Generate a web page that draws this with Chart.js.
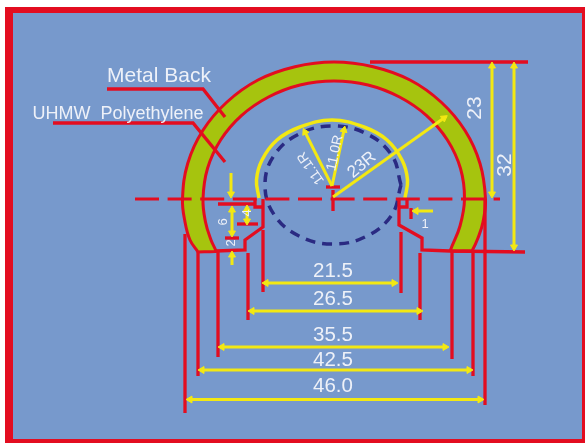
<!DOCTYPE html>
<html>
<head>
<meta charset="utf-8">
<style>
  html, body { margin: 0; padding: 0; background: #fff; }
  #wrap { width: 585px; height: 443px; }
</style>
<script src="https://cdn.jsdelivr.net/npm/chart.js@4"></script>
</head>
<body>
<div id="wrap"><canvas id="drawing" width="585" height="443"></canvas></div>
<script>
// all values, in picture units
const frame = [[5, 7], [585, 7], [585, 443], [5, 443], [5, 7]];
const panel = [[13, 13], [582, 13], [582, 439], [13, 439], [13, 13]];

const metalBack = [
  [198, 252], [190, 240], [185, 222], [182.5, 199], [187.7, 163.5], [202.8, 130.5], [227, 102], [258, 80],
  [295, 66.7], [334, 62], [373, 66.7], [410, 80], [441, 102], [465, 130.5], [480, 163.5], [485.5, 199],
  [483, 222], [478, 238], [472, 251], [471, 251], [451, 251], [450.5, 250], [460, 226], [464.5, 199],
  [460.5, 168.5], [447.4, 140], [426.6, 115.6], [399.5, 97], [368, 85], [334, 81], [300, 85], [268.5, 97],
  [241.4, 115.6], [220.6, 140], [207.5, 168.5], [203, 199], [205.5, 222], [211, 240], [216, 251], [215, 251.5], [198, 252]
];
const innerCircle = [
  [401, 185], [392, 155.5], [367, 134], [333, 126], [299, 134], [274, 155.5], [265, 185],
  [274, 214.5], [299, 236], [333, 244], [367, 236], [392, 214.5], [401, 185]
];
const yellowArc = [
  [259, 198], [256.5, 180], [262, 160], [277, 140], [300, 127], [332, 120],
  [364, 127], [387, 140], [402, 160], [407.5, 180], [405, 198]
];
const centreLine = [[135, 199], [500, 199]];

const redLines = [
  [[107, 89], [203, 89], [225, 117]],
  [[53, 123], [193, 123], [225, 162]],
  [[370, 62], [528, 62]],
  [[450, 251], [525, 252]],
  [[326, 187], [340, 187]],
  [[333, 190], [333, 211]],
  [[216, 251], [245, 250], [245, 240], [263, 227], [263, 199]],
  [[255, 199], [255, 207], [263, 207]],
  [[218, 204], [255, 204]],
  [[237, 224], [258, 224]],
  [[225, 238], [239, 238]],
  [[450, 251], [422, 250], [422, 238], [399, 225], [399, 199]],
  [[407, 199], [407, 207], [399, 207]],
  [[411, 208], [411, 219]],
  [[185, 234], [185, 413]],
  [[198, 252], [198, 376]],
  [[218, 251], [218, 357]],
  [[248, 253], [248, 320]],
  [[263, 230], [263, 292]],
  [[401, 232], [401, 293]],
  [[420, 253], [420, 320]],
  [[452, 251], [452, 359]],
  [[473, 251], [473, 376]],
  [[485, 199], [485, 405]]
];

// [from, to, heads] heads: 1 at the end, 2 at both ends
const arrows = [
  [[492, 66], [492, 194], 2],
  [[514, 66], [514, 247], 2],
  [[231, 173], [231, 194], 1],
  [[232, 210], [232, 233], 2],
  [[247, 209], [247, 221], 2],
  [[232, 265], [232, 255], 1],
  [[433, 211], [416, 211], 1],
  [[266, 283], [394, 283], 2],
  [[252, 311], [419, 311], 2],
  [[222, 347], [445, 347], 2],
  [[202, 370], [469, 370], 2],
  [[190, 399.5], [480, 399.5], 2],
  [[333, 197], [444, 118], 1],
  [[332, 186], [305, 132], 1],
  [[332, 186], [344, 130], 1]
];

const labelTexts = ['Metal Back', 'UHMW  Polyethylene', '21.5', '26.5', '35.5', '42.5', '46.0', '23', '32', '6', '4', '2', '1', '11.1R', '11.0R', '23R'];
const labelX = [159, 118, 333, 333, 333, 333, 333, 475, 505, 223, 247, 231, 425, 311, 335, 362];
const labelY = [76, 114, 271, 299, 335, 360, 386, 108, 165, 222, 213, 243, 224, 168, 153, 165];
const labelSize = [21, 18, 20.5, 20.5, 20.5, 20.5, 20.5, 21, 21, 13, 13, 13, 13, 14, 14, 17];
const labelAngle = [0, 0, 0, 0, 0, 0, 0, -90, -90, -90, -90, -90, 0, -125, -78, -40];

const RED = '#e30d20', YELLOW = '#f3e812', GREEN = '#a6c40e', NAVY = '#2a2a82', BLUE = '#7799cc', WHITE = '#eef1f8';

const toXY = pts => pts.map(p => ({ x: p[0], y: p[1] }));

function stroke(pts, color, width, extra) {
  return Object.assign({
    data: toXY(pts),
    showLine: true,
    borderColor: color,
    borderWidth: width,
    pointRadius: 0,
    clip: false,
    fill: false
  }, extra);
}

function block(pts, color) {
  return stroke(pts, color, 0, { backgroundColor: color, fill: 'shape' });
}

function arrow(a) {
  const [from, to, heads] = a;
  const rot = Math.atan2(to[0] - from[0], from[1] - to[1]) * 180 / Math.PI;
  return stroke([from, to], YELLOW, 3, {
    pointStyle: 'triangle',
    pointRadius: [heads === 2 ? 4 : 0, 4],
    pointRotation: [rot + 180, rot],
    pointBackgroundColor: YELLOW,
    pointBorderColor: YELLOW,
    pointBorderWidth: 1
  });
}

// listed bottom to top
const layers = [
  block(frame, RED),
  block(panel, BLUE),
  stroke(metalBack, RED, 3, { backgroundColor: GREEN, fill: 'shape', tension: 0.4 }),
  stroke(innerCircle, NAVY, 3.5, { borderDash: [10, 7], tension: 0.4 }),
  stroke(yellowArc, YELLOW, 3.5, { tension: 0.4 }),
  stroke(centreLine, RED, 3, { borderDash: [24, 8.6] }),
  ...redLines.map(l => stroke(l, RED, 3.3)),
  ...arrows.map(arrow)
];
layers.forEach((d, i) => { d.order = layers.length - i; });

const textPlugin = {
  id: 'drawingText',
  afterDatasetsDraw(chart) {
    const c = chart.ctx;
    labelTexts.forEach((t, i) => {
      c.save();
      c.translate(chart.scales.x.getPixelForValue(labelX[i]), chart.scales.y.getPixelForValue(labelY[i]));
      c.rotate(labelAngle[i] * Math.PI / 180);
      c.font = labelSize[i] + 'px "Liberation Sans", Arial, sans-serif';
      c.fillStyle = WHITE;
      c.textAlign = 'center';
      c.textBaseline = 'middle';
      c.fillText(t, 0, 0);
      c.restore();
    });
  }
};

new Chart(document.getElementById('drawing').getContext('2d'), {
  type: 'scatter',
  data: { datasets: layers },
  options: {
    responsive: false,
    animation: false,
    layout: { padding: 0, autoPadding: false },
    scales: {
      x: { type: 'linear', min: 0, max: 585, display: false },
      y: { type: 'linear', min: 0, max: 443, reverse: true, display: false }
    },
    plugins: { legend: { display: false }, tooltip: { enabled: false }, title: { display: false } }
  },
  plugins: [textPlugin]
});
</script>
</body>
</html>
